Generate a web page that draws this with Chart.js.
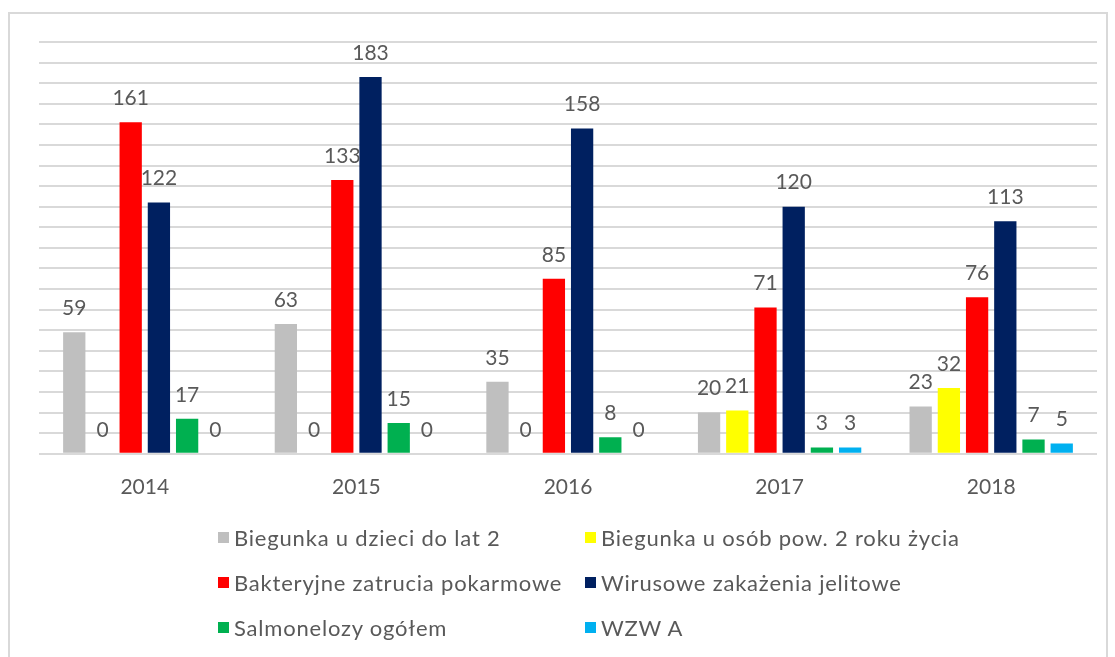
<!DOCTYPE html>
<html>
<head>
<meta charset="utf-8">
<script src="https://cdn.jsdelivr.net/npm/chart.js@4/dist/chart.umd.min.js"></script>
<style>
  body { margin: 0; background: #fff; }
  #wrap { position: relative; width: 1115px; height: 657px; overflow: hidden; }
  #frame { position: absolute; left: 8px; top: 12px; width: 1100px; height: 660px; border: 2px solid #d9d9d9; box-sizing: border-box; }
  canvas { position: absolute; left: 0; top: 0; }
  #legend { position: absolute; left: 218px; top: 524px; display: grid; grid-template-columns: 367px 400px; row-gap: 19px;
    font-family: Lato, "Open Sans", sans-serif; font-size: 22px; letter-spacing: 0.8px; color: #595959; }
  #legend div { display: flex; align-items: center; height: 26px; white-space: nowrap; }
  #legend span.box { display: inline-block; flex-shrink: 0; width: 11px; height: 11px; margin-right: 5px; }
</style>
</head>
<body>
<div id="wrap">
  <div id="frame"></div>
  <canvas id="chart" width="1115" height="657"></canvas>
  <div id="legend"></div>
</div>
<script>
// categories and series
var years = ["2014", "2015", "2016", "2017", "2018"];
var seriesNames = ["Biegunka u dzieci do lat 2", "Biegunka u osób pow. 2 roku życia",
  "Bakteryjne zatrucia pokarmowe", "Wirusowe zakażenia jelitowe",
  "Salmonelozy ogółem", "WZW A"];
var biegunkaDzieci = [59, 63, 35, 20, 23];
var biegunkaDorosli = [0, 0, 0, 21, 32];
var bakteryjne = [161, 133, 85, 71, 76];
var wirusowe = [122, 183, 158, 120, 113];
var salmonelozy = [17, 15, 8, 3, 7];
var wzwA = [0, 0, 0, 3, 5];
var colors = ["#BFBFBF", "#FFFF00", "#FF0000", "#002060", "#00B050", "#00B0F0"];

var allValues = [biegunkaDzieci, biegunkaDorosli, bakteryjne, wirusowe, salmonelozy, wzwA];
var fontFam = 'Lato, "Open Sans", sans-serif';

// value labels above bars
var valueLabels = {
  id: 'valueLabels',
  afterDatasetsDraw: function(chart) {
    var ctx = chart.ctx;
    ctx.save();
    ctx.font = '21px ' + fontFam;
    ctx.fillStyle = '#595959';
    ctx.textAlign = 'center';
    ctx.textBaseline = 'middle';
    chart.data.datasets.forEach(function(ds, i) {
      chart.getDatasetMeta(i).data.forEach(function(bar, j) {
        ctx.fillText(String(ds.data[j]), bar.x, bar.y - 24);
      });
    });
    ctx.restore();
  }
};

var datasets = [];
for (var i = 0; i < seriesNames.length; i++) {
  datasets.push({
    label: seriesNames[i],
    data: allValues[i],
    backgroundColor: colors[i],
    barPercentage: 0.79,
    categoryPercentage: 0.8
  });
}

var ctx = document.getElementById("chart");
var chart = new Chart(ctx, {
  type: 'bar',
  data: { labels: years, datasets: datasets },
  options: {
    responsive: false,
    animation: false,
    layout: { padding: { left: 39, right: 18, top: 42, bottom: 136 } },
    plugins: { legend: { display: false }, tooltip: { enabled: false } },
    scales: {
      x: {
        grid: { display: false, drawTicks: false },
        border: { display: false },
        ticks: { color: '#595959', font: { size: 21, family: fontFam }, padding: 21 }
      },
      y: {
        min: 0, max: 200,
        ticks: { display: false, stepSize: 10 },
        grid: { color: '#d9d9d9', lineWidth: 2, drawTicks: false },
        border: { display: false }
      }
    }
  },
  plugins: [valueLabels]
});

// legend in two columns
var leg = document.getElementById("legend");
seriesNames.forEach(function(name, i) {
  var d = document.createElement("div");
  d.innerHTML = '<span class="box" style="background:' + colors[i] + '"></span>' + name;
  leg.appendChild(d);
});
</script>
</body>
</html>
